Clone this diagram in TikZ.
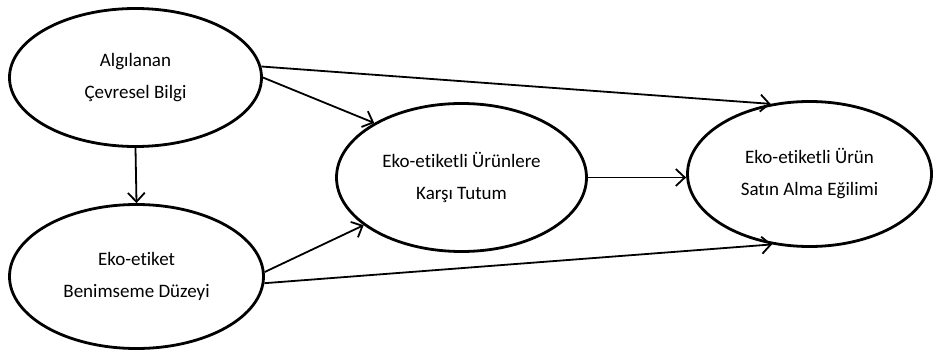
\documentclass[tikz,border=0pt]{standalone}
\usepackage{fontspec}
\setmainfont[Ligatures=NoCommon]{Carlito}
\usetikzlibrary{shapes.geometric,arrows.meta}
\tikzset{
  oval/.style={ellipse, draw=black, line width=2.8pt, inner sep=0pt, align=center,
    font=\fontsize{19}{32}\selectfont},
  conn/.style={line width=1.8pt, -{Straight Barb[length=9pt,width=17pt,line width=1.8pt]}}
}
\begin{document}
\begin{tikzpicture}[x=1pt,y=-1pt]
\useasboundingbox (0,0) rectangle (934,361);
\node[oval, minimum width=252pt, minimum height=138pt] (a) at (135.5,77.5) {Algılanan\\Çevresel Bilgi};
\node[oval, minimum width=254pt, minimum height=144pt] (b) at (136.5,276.5) {Eko-etiket\\Benimseme Düzeyi};
\node[oval, minimum width=250pt, minimum height=148pt] (m) at (461.5,177.5) {Eko-etiketli Ürünlere\\Karşı Tutum};
\node[oval, minimum width=244pt, minimum height=145pt] (d) at (809.5,174) {Eko-etiketli Ürün\\Satın Alma Eğilimi};
\draw[conn] (a.south) -- (b.north);
\draw[conn] (a.5) -- (d.119);
\draw[conn] (a.0) -- (m.148);
\draw[conn] (b.2) -- (m.206);
\draw[conn] (b.-3) -- (d.242);
\draw[conn] (m.east) -- (m.east -| d.west);
\end{tikzpicture}
\end{document}
